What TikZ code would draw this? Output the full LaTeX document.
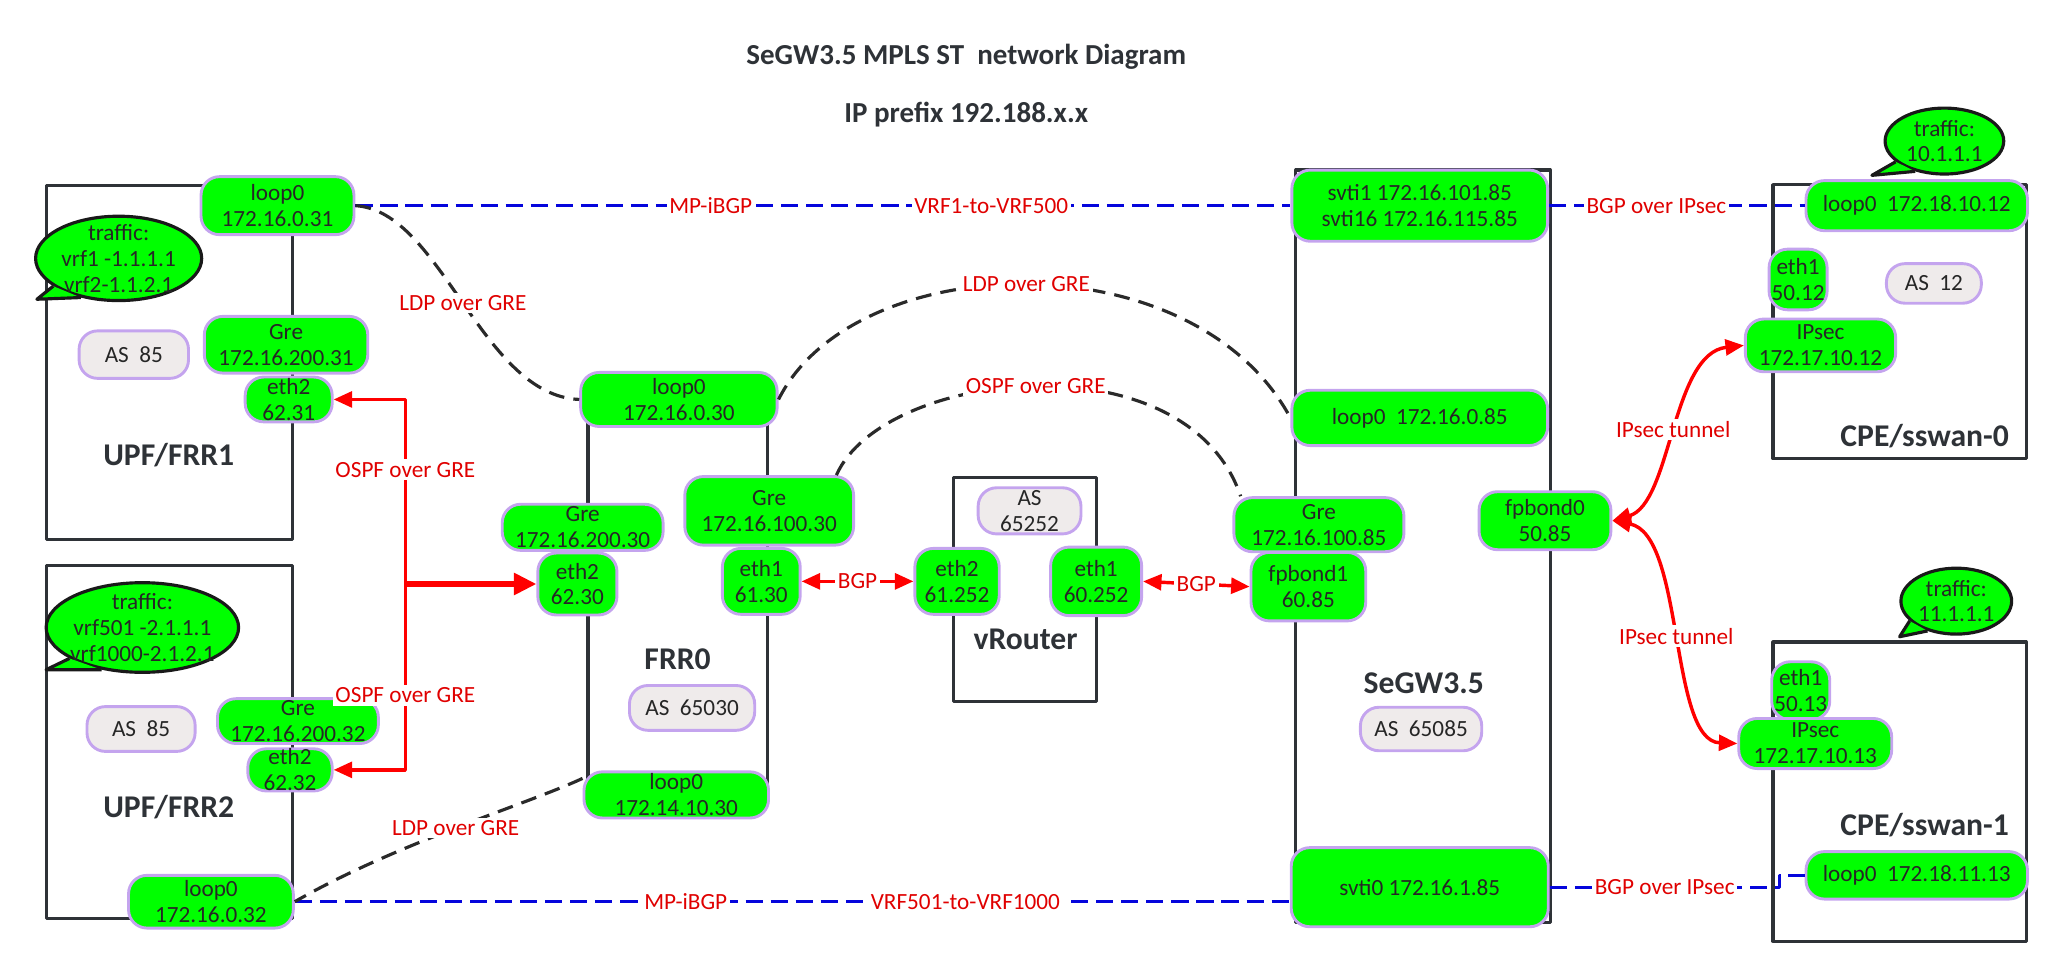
\documentclass[tikz,border=0pt]{standalone}
\usepackage{fontspec}
\setmainfont{Carlito}
\usetikzlibrary{arrows.meta, shapes.geometric}

\definecolor{portgreen}{HTML}{00FF00}
\definecolor{portedge}{HTML}{C4A4EE}
\definecolor{asfill}{HTML}{EFEBEB}
\definecolor{boxline}{HTML}{2E3237}
\definecolor{ibgpblue}{HTML}{0505DC}
\definecolor{linkred}{HTML}{FF0000}
\definecolor{lblred}{HTML}{E00000}
\definecolor{ldpgray}{HTML}{2A2A2A}

\newcommand{\portfont}{\fontsize{8.8}{9.8}\selectfont}

\begin{document}
\begin{tikzpicture}[x=0.5pt, y=-0.5pt, line join=round,
    >={Triangle[length=7pt, width=6pt]},
    port/.style={draw=portedge, line width=1.1pt, fill=portgreen, rounded corners=7pt,
        align=center, inner sep=0pt, text=black!85, font=\portfont},
    asbox/.style={port, fill=asfill},
    sz/.style 2 args={minimum width=#1pt, minimum height=#2pt},
    bubble/.style={ellipse, draw=black!90, line width=1.2pt, fill=portgreen,
        inner sep=-2.5pt, align=center, text=black!85, font=\portfont},
    device/.style={draw=boxline, line width=1.2pt},
    devlabel/.style={font=\bfseries\fontsize{12}{14}\selectfont, text=boxline},
    title/.style={font=\bfseries\fontsize{11}{13}\selectfont, text=boxline},
    lbl/.style={fill=white, text=lblred, inner sep=1pt, font=\portfont},
    ibgp/.style={draw=ibgpblue, line width=1.2pt, dash pattern=on 6.5pt off 3pt},
    ldp/.style={draw=ldpgray, line width=1.2pt, dash pattern=on 6pt off 3.5pt},
    link/.style={draw=linkred, line width=1.3pt}]

    \useasboundingbox (0,0) rectangle (1568,730.5);

    % --- TITLE ---
    \node[title] (ttl) at (733,43) {SeGW3.5 MPLS ST\ \ network Diagram};
    \node[title] (pfx) at (733,87) {IP prefix 192.188.x.x};

    % --- DEVICE BOXES ---
    \draw[device] (35,141) rectangle (222,409);    % UPF/FRR1
    \draw[device] (35,429) rectangle (222,697);    % UPF/FRR2
    \draw[device] (446,303) rectangle (582,603);   % FRR0
    \draw[device] (723,362) rectangle (832,532);   % vRouter
    \draw[device] (983,129) rectangle (1176,700);  % SeGW3.5
    \draw[device] (1345,140) rectangle (1537,348); % CPE/sswan-0
    \draw[device] (1345,487) rectangle (1537,714); % CPE/sswan-1

    \node[devlabel] (nUpf1) at (128,345) {UPF/FRR1};
    \node[devlabel] (nUpf2) at (128,612) {UPF/FRR2};
    \node[devlabel] (nFrr0) at (514,500) {FRR0};
    \node[devlabel] (nVr) at (778,485) {vRouter};
    \node[devlabel] (nSegw) at (1080,518) {SeGW3.5};
    \node[devlabel] (nCpe0) at (1460,331) {CPE/sswan-0};
    \node[devlabel] (nCpe1) at (1460,626) {CPE/sswan-1};

    % --- INTERFACES ---
    % 1. UPF/FRR1
    \node[port, sz={58}{22}] (u1loop) at (210.5,156) {loop0\\172.16.0.31};
    \node[port, sz={62}{21.5}] (u1gre) at (217,261.5) {Gre\\172.16.200.31};
    \node[port, sz={33}{17}] (u1eth) at (219,303) {eth2\\62.31};
    \node[asbox, sz={41.5}{18}] (u1as) at (101.5,269) {AS\ \ 85};
    \node[bubble, sz={63}{32}] (u1bub) at (90,196) {traffic:\\vrf1 -1.1.1.1\\vrf2-1.1.2.1};

    % 2. UPF/FRR2
    \node[bubble, sz={73}{34}] (u2bub) at (108,476) {traffic:\\vrf501 -2.1.1.1\\vrf1000-2.1.2.1};
    \node[asbox, sz={41}{17}] (u2as) at (107,553) {AS\ \ 85};
    \node[port, sz={61}{17}] (u2gre) at (226,547) {Gre\\172.16.200.32};
    \node[port, sz={32}{16}] (u2eth) at (220,584) {eth2\\62.32};
    \node[port, sz={62.5}{20}] (u2loop) at (160,684) {loop0\\172.16.0.32};

    % 3. FRR0
    \node[port, sz={74.5}{20.5}] (f0loop) at (515,303) {loop0\\172.16.0.30};
    \node[port, sz={61}{17.5}] (f0gre2) at (442,400) {Gre\\172.16.200.30};
    \node[port, sz={30}{23.5}] (f0eth2) at (438,443) {eth2\\62.30};
    \node[port, sz={64}{26}] (f0gre1) at (583.5,387.5) {Gre\\172.16.100.30};
    \node[port, sz={29.5}{25}] (f0eth1) at (577.5,441) {eth1\\61.30};
    \node[asbox, sz={47.5}{17}] (f0as) at (525,537) {AS\ \ 65030};
    \node[port, sz={70}{17.5}] (f0lo) at (513,603) {loop0\\172.14.10.30};

    % 4. vRouter
    \node[asbox, sz={39}{17.5}] (vras) at (781,387.5) {AS\\65252};
    \node[port, sz={32}{25}] (vreth2) at (726,441) {eth2\\61.252};
    \node[port, sz={34.5}{26}] (vreth1) at (831.5,441) {eth1\\60.252};

    % 5. SeGW3.5
    \node[port, sz={97}{27}] (sgsvti) at (1077,156) {svti1 172.16.101.85\\svti16 172.16.115.85};
    \node[port, sz={97}{21}] (sgloop) at (1077,317) {loop0\ \ 172.16.0.85};
    \node[port, sz={64.5}{20.5}] (sggre) at (1000.5,398) {Gre\\172.16.100.85};
    \node[port, sz={43.5}{26}] (sgbond1) at (992.5,445) {fpbond1\\60.85};
    \node[port, sz={50}{22}] (sgbond0) at (1172,395) {fpbond0\\50.85};
    \node[asbox, sz={46}{16.5}] (sgas) at (1078,553) {AS\ \ 65085};
    \node[port, sz={97.5}{30}] (sgsvti0) at (1077,673) {svti0 172.16.1.85};

    % 6. CPE/sswan-0
    \node[bubble, sz={45}{25}] (c0bub) at (1475,107) {traffic:\\10.1.1.1};
    \node[port, sz={84}{19}] (c0loop) at (1454,156) {loop0\ \ 172.18.10.12};
    \node[port, sz={22}{23}] (c0eth) at (1364,212) {eth1\\50.12};
    \node[asbox, sz={36}{15}] (c0as) at (1467,215) {AS\ \ 12};
    \node[port, sz={57}{20}] (c0ips) at (1381,262) {IPsec\\172.17.10.12};

    % 7. CPE/sswan-1
    \node[bubble, sz={42}{25}] (c1bub) at (1484,456) {traffic:\\11.1.1.1};
    \node[port, sz={22}{22}] (c1eth) at (1366,524) {eth1\\50.13};
    \node[port, sz={58}{19}] (c1ips) at (1377,564) {IPsec\\172.17.10.13};
    \node[port, sz={84}{18}] (c1loop) at (1454,664) {loop0\ \ 172.18.11.13};

    % --- BUBBLE TAILS ---
    \coordinate (u1tip) at (28,227);
    \coordinate (u2tip) at (35,508);
    \coordinate (c0tip) at (1420,133);
    \coordinate (c1tip) at (1441,483);
    \foreach \b/\t in {u1bub/u1tip, u2bub/u2tip, c0bub/c0tip, c1bub/c1tip} {
        \fill[portgreen] (\b.203) -- (\t) -- (\b.226) -- cycle;
        \draw[black!90, line width=1.2pt] (\b.203) -- (\t) -- (\b.226);
    }

    % --- MP-iBGP / BGP OVER IPSEC ---
    \draw[ibgp] (u1loop.east) -- node[lbl, pos=0.38] {MP-iBGP}
        node[lbl, pos=0.68] {VRF1-to-VRF500} (sgsvti.west);
    \draw[ibgp] (sgsvti.east) -- node[lbl, pos=0.42] {BGP over IPsec} (c0loop.west);
    \draw[ibgp] (u2loop.east) -- node[lbl, pos=0.393] {MP-iBGP}
        node[lbl, pos=0.674] {VRF501-to-VRF1000} (u2loop.east -| sgsvti0.west);
    \coordinate (c1kink) at (1350,673);
    \draw[ibgp] (sgsvti0.east) -- node[lbl] {BGP over IPsec} (c1kink) |- (c1loop.west);

    % --- LDP / OSPF OVER GRE ---
    \draw[ldp] (u1loop.east) .. controls (335,160) and (365,300) .. node[lbl] {LDP over GRE} (f0loop.west);
    \draw[ldp] (f0loop.east) .. controls (648,188) and (905,180) .. node[lbl] {LDP over GRE} (sgloop.west);
    \draw[ldp] (f0gre1.28) .. controls (670,280) and (900,255) .. node[lbl] {OSPF over GRE} (sggre.160);
    \draw[ldp] (f0lo.170) .. controls (400,610) and (300,640) .. node[lbl] {LDP over GRE} (u2loop.east);

    % --- OSPF TO THE UPFs ---
    \coordinate (jn) at (307.5,443);
    \draw[link, ->] (jn) |- node[lbl, pos=0.31] {OSPF over GRE} (u1eth.east);
    \draw[link, ->] (jn) |- node[lbl, pos=0.3] {OSPF over GRE} (u2eth.east);
    \draw[link, line width=2pt, -{Triangle[length=8.5pt, width=8pt]}] (jn) -- (f0eth2.west);

    % --- BGP ---
    \draw[link, <->] (f0eth1.east) -- node[lbl] {BGP} (vreth2.west);
    \draw[link, <->] (vreth1.east) -- node[lbl] {BGP} (sgbond1.west);

    % --- IPSEC TUNNELS ---
    \draw[link, <->] (sgbond0.east) .. controls (1268,382) and (1268,268) .. node[lbl] {IPsec tunnel} (c0ips.west);
    \draw[link, <->] (sgbond0.east) .. controls (1278,405) and (1266,562) .. node[lbl] {IPsec tunnel} (c1ips.west);

\end{tikzpicture}
\end{document}
